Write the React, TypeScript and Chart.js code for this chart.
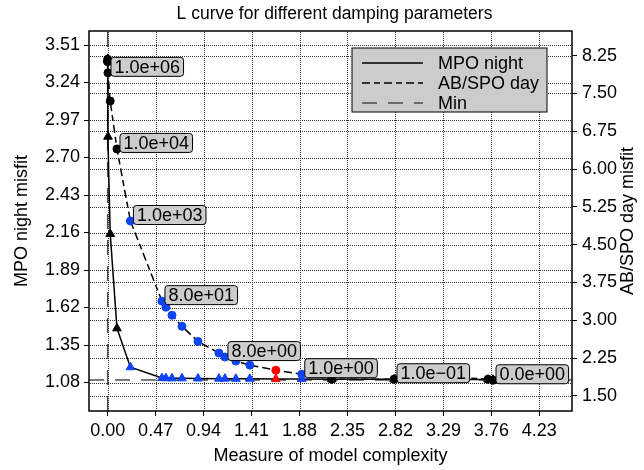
import React, { useEffect, useRef } from "react";
import { Chart, registerables } from "chart.js";

Chart.register(...registerables);

// ---- data ----
const complexity = [0.0, 0.0, 0.003, 0.025, 0.091, 0.223, 0.532, 0.571, 0.63, 0.728, 0.885, 1.09, 1.149, 1.256, 1.393, 1.648, 1.902, 2.196, 2.806, 3.492, 3.727, 3.776];
const mpoNight = [3.41, 3.4, 2.85, 2.15, 1.47, 1.19, 1.112, 1.111, 1.11, 1.11, 1.109, 1.108, 1.108, 1.107, 1.107, 1.106, 1.105, 1.104, 1.103, 1.102, 1.101, 1.1];
const abspoDay = [8.18, 8.13, 7.91, 7.35, 6.4, 4.97, 3.38, 3.26, 3.1, 2.88, 2.58, 2.35, 2.27, 2.19, 2.11, 2.01, 1.93, 1.83, 1.83, 1.86, 1.83, 1.81];
const dampingLabels = ["1.0e+06", "1.0e+04", "1.0e+03", "8.0e+01", "8.0e+00", "1.0e+00", "1.0e\u221201", "0.0e+00"];
const dampingLabelIndex = [2, 4, 5, 6, 12, 16, 18, 21];
const xTicks = [0, 0.47, 0.94, 1.41, 1.88, 2.35, 2.82, 3.29, 3.76, 4.23];
const leftTicks = [1.08, 1.35, 1.62, 1.89, 2.16, 2.43, 2.7, 2.97, 3.24, 3.51];
const rightTicks = [1.5, 2.25, 3.0, 3.75, 4.5, 5.25, 6.0, 6.75, 7.5, 8.25];
const minMisfit = 1.098;
const minComplexity = 0;
const xRange = [-0.183, 4.55];
const leftRange = [0.875, 3.611];
const rightRange = [1.2, 8.74];

// ---- styling ----
const FONT = "'Liberation Sans', Arial, Helvetica, sans-serif";
const BLUE = "#0f44f5";
const RED = "#ff0000";
const BLACK = "#000000";
const BOX_GRAY = "#cccccc";
const FIRST_BLUE = 5;
const LAST_BLUE = 16;
const RED_INDEX = 15;
const DASH_DAY = [8, 4, 6, 4];
const DASH_MIN = [15, 11];
const MIN_COLOR = "rgba(60,60,60,0.9)";
const GRID_COLOR = "#333333";
const DOT_STEP = 2;

const pointColors = complexity.map((_, i) =>
  i === RED_INDEX ? RED : i >= FIRST_BLUE && i <= LAST_BLUE ? BLUE : BLACK
);

function roundRect(ctx: CanvasRenderingContext2D, x: number, y: number, w: number, h: number, r: number) {
  ctx.beginPath();
  ctx.moveTo(x + r, y);
  ctx.lineTo(x + w - r, y);
  ctx.quadraticCurveTo(x + w, y, x + w, y + r);
  ctx.lineTo(x + w, y + h - r);
  ctx.quadraticCurveTo(x + w, y + h, x + w - r, y + h);
  ctx.lineTo(x + r, y + h);
  ctx.quadraticCurveTo(x, y + h, x, y + h - r);
  ctx.lineTo(x, y + r);
  ctx.quadraticCurveTo(x, y, x + r, y);
  ctx.closePath();
}

// dotted grid drawn as 1px dots at the scales' tick pixels
function drawGrid(chart: any) {
  const ctx: CanvasRenderingContext2D = chart.ctx;
  const a = chart.chartArea;
  const left = Math.ceil(a.left), right = Math.floor(a.right);
  const top = Math.ceil(a.top), bottom = Math.floor(a.bottom);
  ctx.save();
  ctx.globalAlpha = 1;
  ctx.globalCompositeOperation = "source-over";
  ctx.fillStyle = GRID_COLOR;
  const xs = chart.scales.x;
  const ys = chart.scales.y;
  const y1 = chart.scales.y1;
  xTicks.forEach((v) => {
    const px = Math.round(xs.getPixelForValue(v));
    for (let y = top + 1; y < bottom; y += DOT_STEP) ctx.fillRect(px, y, 1, 1);
  });
  const hLine = (py: number) => {
    for (let x = left + 1; x < right; x += DOT_STEP) ctx.fillRect(x, py, 1, 1);
  };
  leftTicks.forEach((v) => hLine(Math.round(ys.getPixelForValue(v))));
  rightTicks.forEach((v) => hLine(Math.round(y1.getPixelForValue(v))));
  ctx.restore();
}

const gridPlugin = {
  id: "dottedGrid",
  beforeDatasetsDraw(chart: any) {
    drawGrid(chart);
  },
};

const overlay = {
  id: "overlay",
  afterDatasetsDraw(chart: any) {
    const ctx: CanvasRenderingContext2D = chart.ctx;
    const a = chart.chartArea;
    ctx.save();
    // frame
    ctx.strokeStyle = BLACK;
    ctx.lineWidth = 1.5;
    ctx.setLineDash([]);
    ctx.strokeRect(a.left, a.top, a.right - a.left, a.bottom - a.top);

    // damping labels
    const meta = chart.getDatasetMeta(1);
    ctx.font = `18px ${FONT}`;
    ctx.textBaseline = "middle";
    ctx.textAlign = "left";
    dampingLabelIndex.forEach((idx, k) => {
      const p = meta.data[idx];
      const text = dampingLabels[k];
      const w = ctx.measureText(text).width + 7;
      const h = 19;
      const x = p.x + 3;
      const y = p.y - 6 - h / 2;
      roundRect(ctx, x, y, w, h, 3);
      ctx.fillStyle = BOX_GRAY;
      ctx.fill();
      ctx.lineWidth = 1;
      ctx.strokeStyle = BLACK;
      ctx.stroke();
      ctx.fillStyle = BLACK;
      ctx.fillText(text, x + 3.5, y + h / 2 + 1);
    });

    // legend
    const lw = 195, lh = 64;
    const lx = a.right - 25 - lw;
    const ly = a.top + 17;
    ctx.fillStyle = BOX_GRAY;
    ctx.fillRect(lx, ly, lw, lh);
    ctx.lineWidth = 1;
    ctx.strokeStyle = BLACK;
    ctx.strokeRect(lx, ly, lw, lh);
    const entries = [
      { text: "MPO night", dash: [] as number[], color: BLACK },
      { text: "AB/SPO day", dash: DASH_DAY, color: BLACK },
      { text: "Min", dash: DASH_MIN, color: MIN_COLOR },
    ];
    entries.forEach((e, i) => {
      const yy = ly + 15 + i * 20;
      ctx.beginPath();
      ctx.setLineDash(e.dash);
      ctx.strokeStyle = e.color;
      ctx.lineWidth = 1.5;
      ctx.moveTo(lx + 10, yy);
      ctx.lineTo(lx + 71, yy);
      ctx.stroke();
      ctx.setLineDash([]);
      ctx.fillStyle = BLACK;
      ctx.fillText(e.text, lx + 86, yy + 1);
    });
    ctx.restore();
  },
  afterDraw(chart: any) {
    const ctx: CanvasRenderingContext2D = chart.ctx;
    const a = chart.chartArea;
    const cx = (a.left + a.right) / 2;
    const cy = (a.top + a.bottom) / 2;
    ctx.save();
    ctx.fillStyle = BLACK;
    ctx.textAlign = "center";
    ctx.textBaseline = "middle";
    ctx.font = `17.5px ${FONT}`;
    ctx.fillText("L curve for different damping parameters", cx + 4, 14);
    ctx.font = `18px ${FONT}`;
    ctx.fillText("Measure of model complexity", cx, 456);
    ctx.save();
    ctx.translate(22, cy);
    ctx.rotate(-Math.PI / 2);
    ctx.fillText("MPO night misfit", 0, 0);
    ctx.restore();
    ctx.save();
    ctx.translate(628, cy);
    ctx.rotate(-Math.PI / 2);
    ctx.fillText("AB/SPO day misfit", 0, 0);
    ctx.restore();
    ctx.restore();
  },
};

const tickFont = { family: FONT, size: 18 };
const gridOpts = {
  drawOnChartArea: false,
  drawTicks: true,
  color: BLACK,
  lineWidth: 1,
  tickLength: 5,
  tickColor: BLACK,
  tickWidth: 1,
  tickBorderDash: [],
};
const fmt = (v: any) => Number(v).toFixed(2);

export default function App() {
  const ref = useRef<HTMLCanvasElement | null>(null);
  useEffect(() => {
    if (!ref.current) return;
    const chart = new Chart(ref.current, {
      type: "line",
      data: {
        datasets: [
          {
            label: "MPO night",
            data: complexity.map((x, i) => ({ x, y: mpoNight[i] })),
            yAxisID: "y",
            borderColor: BLACK,
            borderWidth: 1.5,
            pointStyle: "triangle",
            pointRadius: 5,
            pointBackgroundColor: pointColors,
            pointBorderColor: pointColors,
            pointBorderWidth: 1,
            tension: 0,
            order: 2,
          },
          {
            label: "AB/SPO day",
            data: complexity.map((x, i) => ({ x, y: abspoDay[i] })),
            yAxisID: "y1",
            borderColor: BLACK,
            borderWidth: 1.5,
            borderDash: DASH_DAY,
            pointStyle: "circle",
            pointRadius: 4,
            pointBackgroundColor: pointColors,
            pointBorderColor: pointColors,
            pointBorderWidth: 1,
            tension: 0,
            order: 1,
          },
          {
            label: "Min",
            data: [
              { x: minComplexity, y: leftRange[0] },
              { x: minComplexity, y: leftRange[1] },
            ],
            yAxisID: "y",
            borderColor: MIN_COLOR,
            borderWidth: 1.5,
            borderDash: DASH_MIN,
            pointRadius: 0,
            order: 3,
          },
          {
            label: "Min h",
            data: [
              { x: xRange[0], y: minMisfit },
              { x: xRange[1], y: minMisfit },
            ],
            yAxisID: "y",
            borderColor: MIN_COLOR,
            borderWidth: 1.5,
            borderDash: DASH_MIN,
            pointRadius: 0,
            order: 4,
          },
        ],
      },
      options: {
        responsive: false,
        devicePixelRatio: 1,
        animation: false,
        events: [],
        layout: { padding: { top: 31, left: 0, right: 0, bottom: 0 } },
        plugins: {
          legend: { display: false },
          tooltip: { enabled: false },
          title: { display: false },
        },
        scales: {
          x: {
            type: "linear",
            min: xRange[0],
            max: xRange[1],
            afterBuildTicks: (s: any) => {
              s.ticks = xTicks.map((v) => ({ value: v }));
            },
            afterFit: (s: any) => {
              s.height = 59;
            },
            ticks: { autoSkip: false, maxRotation: 0, padding: 4, color: BLACK, font: tickFont, callback: fmt },
            grid: gridOpts,
            border: { display: false },
          },
          y: {
            type: "linear",
            position: "left",
            min: leftRange[0],
            max: leftRange[1],
            afterBuildTicks: (s: any) => {
              s.ticks = leftTicks.map((v) => ({ value: v }));
            },
            afterFit: (s: any) => {
              s.width = 89;
            },
            ticks: { autoSkip: false, padding: 4, color: BLACK, font: tickFont, callback: fmt },
            grid: gridOpts,
            border: { display: false },
          },
          y1: {
            type: "linear",
            position: "right",
            min: rightRange[0],
            max: rightRange[1],
            afterBuildTicks: (s: any) => {
              s.ticks = rightTicks.map((v) => ({ value: v }));
            },
            afterFit: (s: any) => {
              s.width = 72;
            },
            ticks: { autoSkip: false, padding: 5, color: BLACK, font: tickFont, callback: fmt },
            grid: gridOpts,
            border: { display: false },
          },
        },
      } as any,
      plugins: [gridPlugin, overlay],
    });
    return () => chart.destroy();
  }, []);
  return (
    <div style={{ position: "absolute", left: 0, top: 0, width: 644, height: 470, background: "#fff" }}>
      <canvas ref={ref} width={644} height={470} style={{ display: "block" }} />
    </div>
  );
}
